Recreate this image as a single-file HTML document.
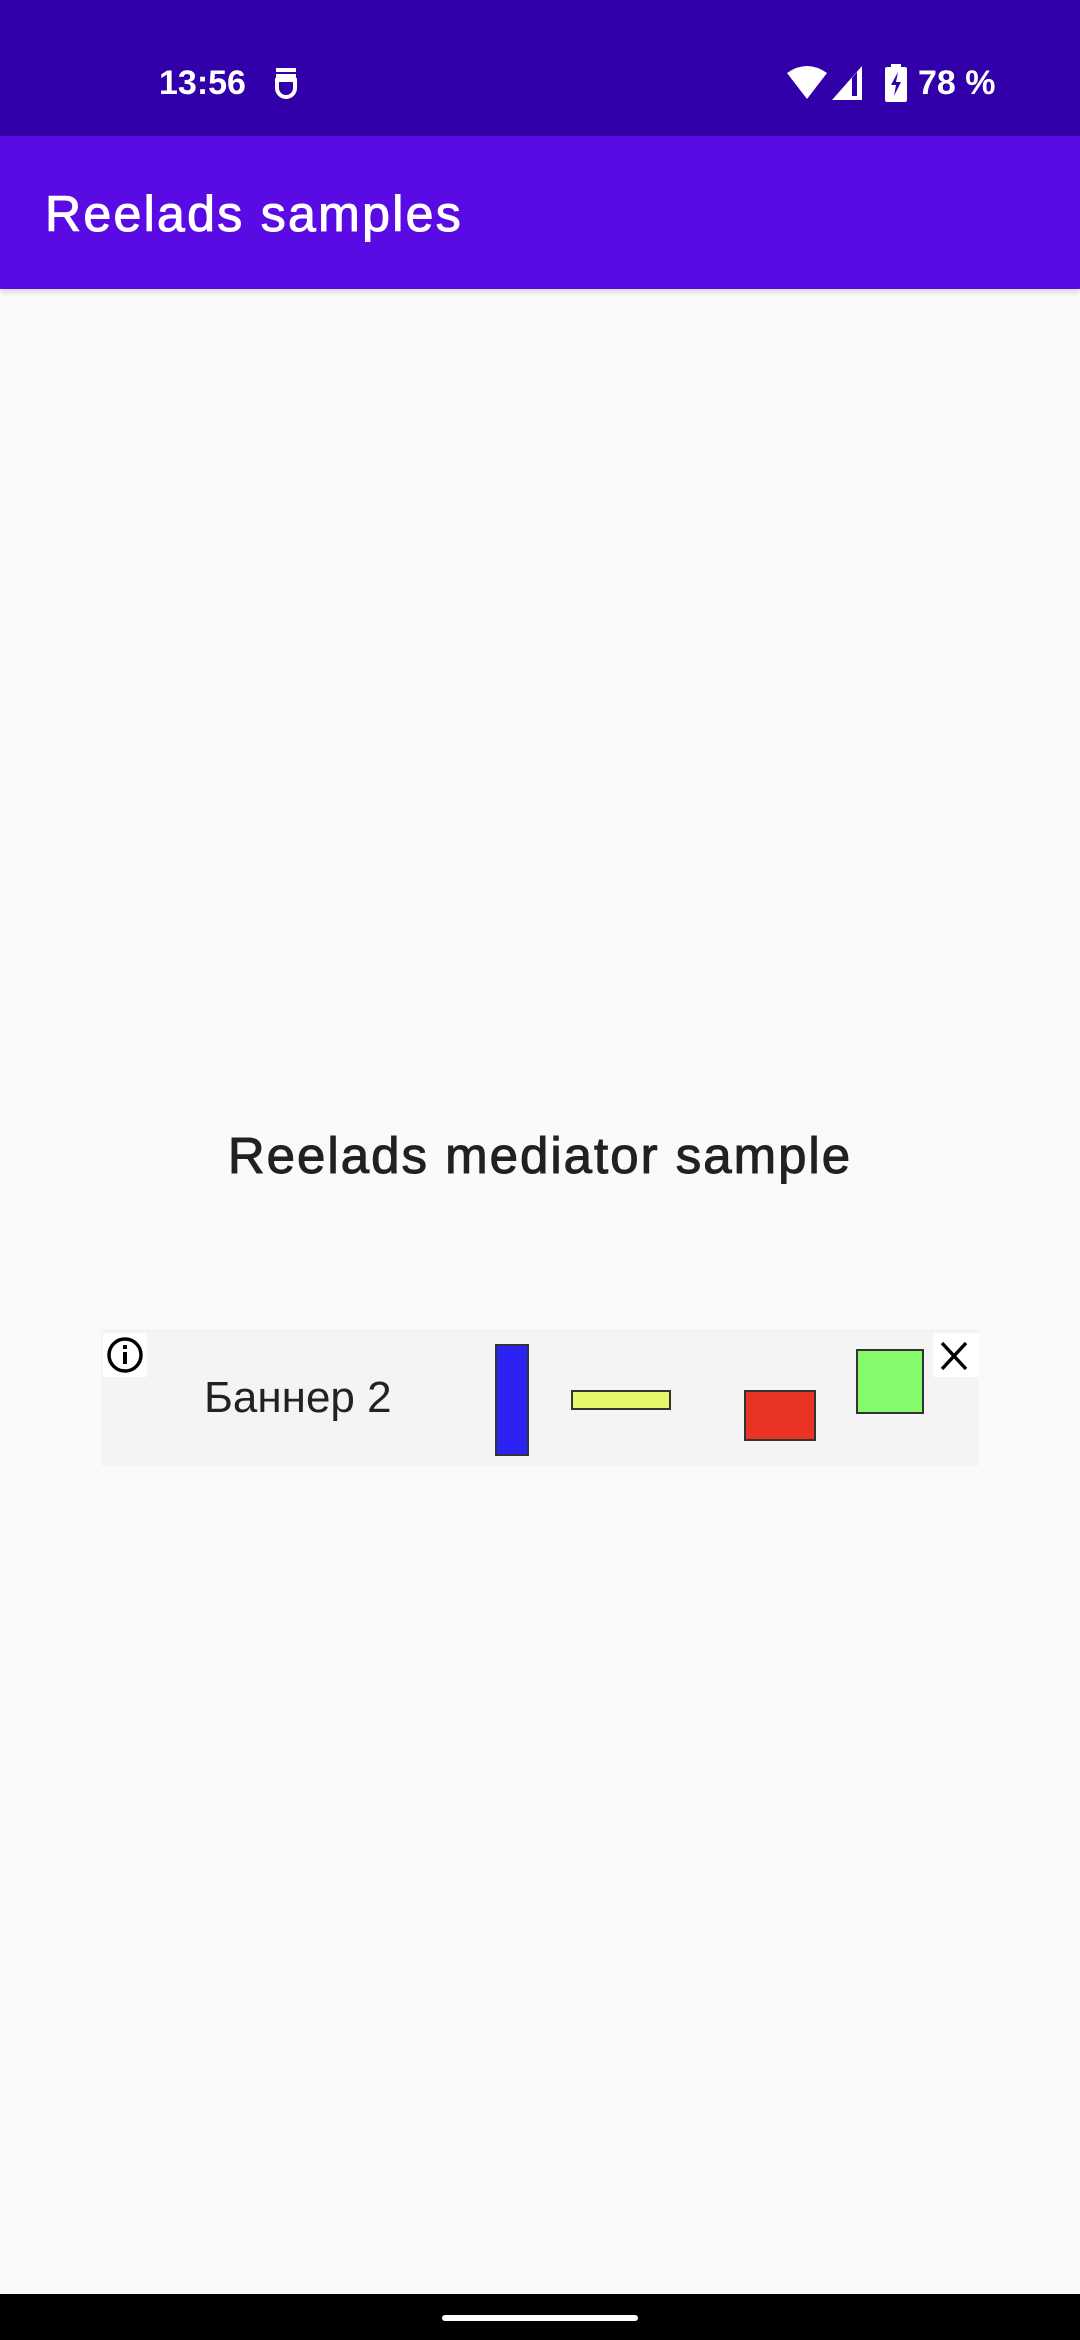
<!DOCTYPE html>
<html><head><meta charset="utf-8">
<style>
html,body{margin:0;padding:0;}
body{width:1080px;height:2340px;background:#fafafa;position:relative;overflow:hidden;font-family:"Liberation Sans","Noto Sans CJK SC",sans-serif;}
.abs{position:absolute;}
</style></head>
<body>
<div class="abs" style="left:0;top:0;width:1080px;height:136px;background:#3200a9;">
  <div class="abs" style="left:159px;top:62px;color:#fff;font-size:34px;line-height:42px;font-weight:bold;">13:56</div>
  <svg class="abs" style="left:272px;top:66px" width="28" height="36" viewBox="0 0 28 36"><path d="M4 4h20M4 10h20a6 6 0 0 1 0 0M5 14h18v8a9 9 0 0 1-18 0z" fill="none" stroke="#fff" stroke-width="4"/></svg>
  <svg class="abs" style="left:786px;top:65px" width="42" height="36" viewBox="0 0 42 36"><path d="M21 34L1 8Q21-6 41 8z" fill="#fff"/></svg>
  <svg class="abs" style="left:832px;top:66px" width="32" height="34" viewBox="0 0 32 34"><path d="M30 0V34H0z" fill="#fff"/><path d="M20 12V30H25V6z" fill="#3200a9"/></svg>
  <svg class="abs" style="left:885px;top:64px" width="22" height="38" viewBox="0 0 22 38"><rect x="6" y="0" width="10" height="4" fill="#fff"/><rect x="0" y="3" width="22" height="35" rx="2" fill="#fff"/><path d="M13 8L6 21H11L9 32L16 18H11z" fill="#3200a9"/></svg>
  <div class="abs" style="left:918px;top:62px;color:#fff;font-size:34px;line-height:42px;font-weight:bold;">78 %</div>
</div>
<div class="abs" style="left:0;top:136px;width:1080px;height:153px;background:#5a0be4;box-shadow:0 3px 6px rgba(0,0,0,0.15);">
  <div class="abs" style="left:45px;top:49px;color:#fff;font-size:50px;line-height:58px;letter-spacing:2.3px;-webkit-text-stroke:1px #fff;">Reelads samples</div>
</div>
<div class="abs" style="left:0;top:1126px;width:1080px;text-align:center;color:#212121;font-size:51px;line-height:60px;letter-spacing:2px;-webkit-text-stroke:1px #212121;">Reelads mediator sample</div>
<div class="abs" style="left:101px;top:1329px;width:878px;height:137px;background:#f4f4f4;">
  <div class="abs" style="left:2px;top:4px;width:44px;height:44px;background:#fff;">
    <svg width="44" height="44" viewBox="0 0 44 44"><circle cx="22" cy="22" r="16" fill="none" stroke="#000" stroke-width="3.5"/><rect x="20" y="19" width="4" height="12" fill="#000"/><rect x="20" y="12" width="4" height="4" fill="#000"/></svg>
  </div>
  <div class="abs" style="left:103px;top:45px;color:#222;font-size:44px;line-height:48px;">Баннер 2</div>
  <div class="abs" style="left:394px;top:15px;width:34px;height:112px;background:#2b22f3;border:2px solid #333;box-sizing:border-box;"></div>
  <div class="abs" style="left:470px;top:61px;width:100px;height:20px;background:#e4f86a;border:2px solid #333;box-sizing:border-box;"></div>
  <div class="abs" style="left:643px;top:61px;width:72px;height:51px;background:#e83325;border:2px solid #333;box-sizing:border-box;"></div>
  <div class="abs" style="left:755px;top:20px;width:68px;height:65px;background:#85fb6c;border:2px solid #333;box-sizing:border-box;"></div>
  <div class="abs" style="left:832px;top:4px;width:46px;height:44px;background:#fff;">
    <svg width="46" height="44" viewBox="0 0 46 44"><path d="M9 10L33 36M33 10L9 36" stroke="#000" stroke-width="3.5"/></svg>
  </div>
</div>
<div class="abs" style="left:0;top:2294px;width:1080px;height:46px;background:#000;">
  <div class="abs" style="left:442px;top:21px;width:196px;height:6px;border-radius:3px;background:#fff;"></div>
</div>
</body></html>
